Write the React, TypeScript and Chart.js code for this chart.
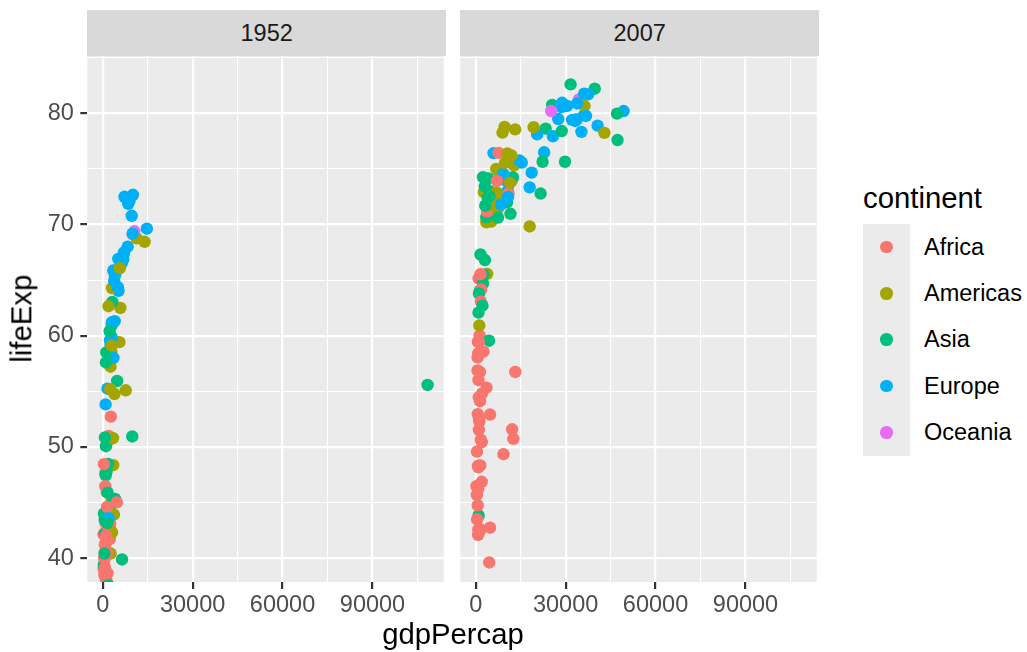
import React, { useEffect, useRef } from "react";
import { Chart, registerables } from "chart.js";

Chart.register(...registerables);

// ---------------- data (gapminder, alphabetical by country) ----------------
const countries = [
  "Afghanistan","Albania","Algeria","Angola","Argentina","Australia","Austria","Bahrain","Bangladesh","Belgium",
  "Benin","Bolivia","Bosnia and Herzegovina","Botswana","Brazil","Bulgaria","Burkina Faso","Burundi","Cambodia","Cameroon",
  "Canada","Central African Republic","Chad","Chile","China","Colombia","Comoros","Congo, Dem. Rep.","Congo, Rep.","Costa Rica",
  "Cote d'Ivoire","Croatia","Cuba","Czech Republic","Denmark","Djibouti","Dominican Republic","Ecuador","Egypt","El Salvador",
  "Equatorial Guinea","Eritrea","Ethiopia","Finland","France","Gabon","Gambia","Germany","Ghana","Greece",
  "Guatemala","Guinea","Guinea-Bissau","Haiti","Honduras","Hong Kong, China","Hungary","Iceland","India","Indonesia",
  "Iran","Iraq","Ireland","Israel","Italy","Jamaica","Japan","Jordan","Kenya","Korea, Dem. Rep.",
  "Korea, Rep.","Kuwait","Lebanon","Lesotho","Liberia","Libya","Madagascar","Malawi","Malaysia","Mali",
  "Mauritania","Mauritius","Mexico","Mongolia","Montenegro","Morocco","Mozambique","Myanmar","Namibia","Nepal",
  "Netherlands","New Zealand","Nicaragua","Niger","Nigeria","Norway","Oman","Pakistan","Panama","Paraguay",
  "Peru","Philippines","Poland","Portugal","Puerto Rico","Reunion","Romania","Rwanda","Sao Tome and Principe","Saudi Arabia",
  "Senegal","Serbia","Sierra Leone","Singapore","Slovak Republic","Slovenia","Somalia","South Africa","Spain","Sri Lanka",
  "Sudan","Swaziland","Sweden","Switzerland","Syria","Taiwan","Tanzania","Thailand","Togo","Trinidad and Tobago",
  "Tunisia","Turkey","Uganda","United Kingdom","United States","Uruguay","Venezuela","Vietnam","West Bank and Gaza","Yemen, Rep.",
  "Zambia","Zimbabwe",
];

const countryContinent = [
  "Asia","Europe","Africa","Africa","Americas","Oceania","Europe","Asia","Asia","Europe",
  "Africa","Americas","Europe","Africa","Americas","Europe","Africa","Africa","Asia","Africa",
  "Americas","Africa","Africa","Americas","Asia","Americas","Africa","Africa","Africa","Americas",
  "Africa","Europe","Americas","Europe","Europe","Africa","Americas","Americas","Africa","Americas",
  "Africa","Africa","Africa","Europe","Europe","Africa","Africa","Europe","Africa","Europe",
  "Americas","Africa","Africa","Americas","Americas","Asia","Europe","Europe","Asia","Asia",
  "Asia","Asia","Europe","Asia","Europe","Americas","Asia","Asia","Africa","Asia",
  "Asia","Asia","Asia","Africa","Africa","Africa","Africa","Africa","Asia","Africa",
  "Africa","Africa","Americas","Asia","Europe","Africa","Africa","Asia","Africa","Asia",
  "Europe","Oceania","Americas","Africa","Africa","Europe","Asia","Asia","Americas","Americas",
  "Americas","Asia","Europe","Europe","Americas","Africa","Europe","Africa","Africa","Asia",
  "Africa","Europe","Africa","Asia","Europe","Europe","Africa","Africa","Europe","Asia",
  "Africa","Africa","Europe","Europe","Asia","Asia","Africa","Asia","Africa","Americas",
  "Africa","Europe","Africa","Europe","Americas","Americas","Americas","Asia","Asia","Asia",
  "Africa","Africa",
];

const gdp1952 = [
  779.4,1601.1,2449.0,3520.6,5911.3,10039.6,6137.1,9867.1,684.2,8343.1,
  1062.8,2677.3,973.5,851.2,2108.9,2444.3,543.3,339.3,368.5,1172.7,
  11367.2,1071.3,1178.7,3940.0,400.4,2144.1,1103.0,780.5,2125.6,2627.0,
  1388.6,3119.2,5586.5,6876.1,9692.4,2669.5,1397.7,3522.1,1418.8,3048.3,
  375.6,328.9,362.1,6424.5,7029.8,4293.5,485.2,7144.1,911.3,3530.7,
  2428.2,510.2,299.9,1840.4,2194.9,3054.4,5263.7,7267.7,546.6,749.7,
  3035.3,4129.8,5210.3,4086.5,4931.4,2898.5,3217.0,1546.9,853.5,1088.3,
  1030.6,108382.4,4834.8,298.8,575.6,2387.5,1443.0,369.2,1831.1,452.3,
  743.1,1968.0,3478.1,786.6,2647.6,1688.2,468.5,331.0,2423.8,545.9,
  8941.6,10556.6,3112.4,761.9,1077.3,10095.4,1828.2,684.6,2480.4,1952.3,
  3758.5,1272.9,4029.3,3068.3,3082.0,2718.9,3144.6,493.3,879.6,6459.6,
  1450.4,3581.5,879.8,2315.1,5074.7,4215.0,1135.8,4725.3,3834.0,1083.5,
  1616.0,1148.4,8527.8,14734.2,1643.5,1206.9,716.7,757.8,859.8,3023.3,
  1468.5,1969.1,734.8,9979.5,13990.5,5716.8,7689.8,605.1,1515.6,781.7,
  1147.4,406.9,
];

const life1952 = [
  28.80,55.23,43.08,30.02,62.49,69.12,66.80,50.94,37.48,68.00,
  38.22,40.41,53.82,47.62,50.92,59.60,31.98,39.03,39.42,38.52,
  68.75,35.46,38.09,54.75,44.00,50.64,40.72,39.14,42.11,57.21,
  40.48,61.21,59.42,66.87,70.78,34.81,45.93,48.36,41.89,45.26,
  34.48,35.93,34.08,66.55,67.41,37.00,30.00,67.50,43.15,65.86,
  42.02,33.61,32.50,37.58,41.91,60.96,64.03,72.49,37.37,37.47,
  44.87,45.32,66.91,65.39,65.94,58.53,63.03,43.16,42.27,50.06,
  47.45,55.57,55.93,42.14,38.48,42.72,36.68,36.26,48.46,33.69,
  40.54,50.99,50.79,42.24,59.16,42.87,31.29,36.32,41.73,36.16,
  72.13,69.39,42.31,37.44,36.32,72.67,37.58,43.44,55.19,62.65,
  43.90,47.75,61.31,59.82,64.28,52.72,61.05,40.00,46.47,39.88,
  37.28,58.00,30.33,60.40,64.36,65.57,32.98,45.01,64.94,57.59,
  38.64,41.41,71.86,69.62,45.88,58.50,41.22,50.85,38.60,59.10,
  44.60,43.59,39.98,69.18,68.44,66.07,55.09,40.41,43.16,32.55,
  42.04,48.45,
];

const gdp2007 = [
  974.6,5937.0,6223.4,4797.2,12779.4,34435.4,36126.5,29796.0,1391.3,33692.6,
  1441.3,3822.1,7446.3,12569.9,9065.8,10680.8,1217.0,430.1,1713.8,2042.1,
  36319.2,706.0,1704.1,13171.6,4959.1,7006.6,986.1,277.6,3632.6,9645.1,
  1544.8,14619.2,8948.1,22833.3,35278.4,2082.5,6025.4,6873.3,5581.2,5728.4,
  12154.1,641.4,690.8,33207.1,30470.0,13206.5,752.7,32170.4,1327.6,27538.4,
  5186.1,942.7,579.2,1201.6,3548.3,39725.0,18008.9,36180.8,2452.2,3540.7,
  11605.7,4471.1,40676.0,25523.3,28569.7,7320.9,31656.1,4519.5,1463.2,1593.1,
  23348.1,47307.0,10461.1,1569.3,414.5,12057.5,1044.8,759.4,12451.7,1042.6,
  1803.2,10957.0,11977.6,3095.8,9253.9,3820.2,823.7,944.0,4811.1,1091.4,
  36797.9,25185.0,2749.3,619.7,2014.0,49357.2,22316.2,2605.9,9809.2,4172.8,
  7408.9,3190.5,15389.9,20509.6,19328.7,7670.1,10808.5,863.1,1598.4,21654.8,
  1712.5,9786.5,862.5,47143.2,18678.3,25768.3,926.1,9269.7,28821.1,3970.1,
  2602.4,4513.5,33859.7,37506.4,4184.5,28718.3,1107.5,7458.4,883.0,18008.5,
  7092.9,8458.3,1056.4,33203.3,42951.7,10611.5,11415.8,2441.6,3025.3,2280.8,
  1271.2,469.7,
];

const life2007 = [
  43.83,76.42,72.30,42.73,75.32,81.24,79.83,75.64,64.06,79.44,
  56.73,65.55,74.85,50.73,72.39,73.01,52.30,49.58,59.72,50.43,
  80.65,44.74,50.65,78.55,72.96,72.89,65.15,46.46,55.32,78.78,
  48.33,75.75,78.27,76.49,78.33,54.79,72.24,74.99,71.34,71.88,
  51.58,58.04,52.95,79.31,80.66,56.74,59.45,79.41,60.02,79.48,
  70.26,56.01,46.39,60.92,70.20,82.21,73.34,81.76,64.70,70.65,
  70.96,59.55,78.89,80.75,80.55,72.57,82.60,72.54,54.11,67.30,
  78.62,77.59,71.99,42.59,45.68,73.95,59.44,48.30,74.24,54.47,
  64.16,72.80,76.20,66.80,74.54,71.16,42.08,62.07,52.91,63.79,
  79.76,80.20,72.90,56.87,46.86,80.20,75.64,65.48,75.54,71.75,
  71.42,71.69,75.56,78.10,78.75,76.44,72.48,46.24,65.53,72.78,
  63.06,74.00,42.57,79.97,74.66,77.93,48.16,49.34,80.94,72.40,
  58.56,39.61,80.88,81.70,74.14,78.40,52.52,70.62,58.42,69.82,
  73.92,71.78,51.54,79.43,78.24,76.38,73.75,74.25,73.42,62.70,
  42.38,43.49,
];

const continentNames = ["Africa", "Americas", "Asia", "Europe", "Oceania"];
const continentColors = ["#F8766D", "#A3A500", "#00BF7D", "#00B0F6", "#E76BF3"];
const panelYears = ["1952", "2007"];

const xTickValues = [0, 15000, 30000, 45000, 60000, 75000, 90000, 105000];
const xMajorStep = 30000;
const yTickValues = [40, 45, 50, 55, 60, 65, 70, 75, 80, 85];
const yMajorStep = 10;
const xLimits = [-5127.7, 113787.6];
const yLimits = [37.85, 85.15];

// ---------------- styling ----------------
const FONT = "'Liberation Sans', Arial, Helvetica, sans-serif";
Chart.defaults.font.family = FONT;

const PANEL_TOP = 56;
const PANEL_BOTTOM = 582;
const CANVAS_H = 652;
const SMALL = 23.5;
const LARGE = 29.3;

const colorOf = (c: string) => continentColors[continentNames.indexOf(c)];

const panelBg = {
  id: "panelBg",
  beforeDraw(chart: any) {
    const { ctx, chartArea } = chart;
    ctx.save();
    ctx.fillStyle = "#EBEBEB";
    ctx.fillRect(chartArea.left, chartArea.top, chartArea.right - chartArea.left, chartArea.bottom - chartArea.top);
    ctx.restore();
  },
};

function Panel(props: {
  gdp: number[];
  life: number[];
  showY: boolean;
  left: number;
  width: number;
  padLeft: number;
  padRight: number;
}) {
  const ref = useRef<HTMLCanvasElement>(null);
  const { gdp, life, showY, left, width, padLeft, padRight } = props;

  useEffect(() => {
    if (!ref.current) return;
    const isMajorX = (v: number) => v % xMajorStep === 0;
    const isMajorY = (v: number) => v % yMajorStep === 0;
    const chart = new Chart(ref.current, {
      type: "scatter",
      data: {
        datasets: [
          {
            data: gdp.map((g, i) => ({ x: g, y: life[i] })),
            backgroundColor: countryContinent.map(colorOf),
            borderWidth: 0,
            pointRadius: 6.2,
            pointHoverRadius: 6.2,
            pointBorderWidth: 0,
            clip: 0,
          } as any,
        ],
      },
      options: {
        animation: false,
        responsive: false,
        events: [],
        layout: { padding: { left: padLeft, right: padRight, top: PANEL_TOP, bottom: 0 } },
        plugins: {
          legend: { display: false },
          tooltip: { enabled: false },
          title: { display: false },
        },
        scales: {
          x: {
            type: "linear",
            min: xLimits[0],
            max: xLimits[1],
            afterBuildTicks: (s: any) => {
              s.ticks = xTickValues.map((v) => ({ value: v }));
            },
            afterFit: (s: any) => {
              s.height = CANVAS_H - PANEL_BOTTOM;
            },
            border: { display: false },
            grid: {
              color: "#FFFFFF",
              lineWidth: (c: any) => (c.tick && isMajorX(c.tick.value) ? 2.2 : 1.1),
              tickColor: (c: any) => (c.tick && isMajorX(c.tick.value) ? "#333333" : "rgba(0,0,0,0)"),
              tickWidth: 2.2,
              tickLength: 7,
              drawTicks: true,
            },
            ticks: {
              autoSkip: false,
              maxRotation: 0,
              minRotation: 0,
              padding: 2,
              color: "#4D4D4D",
              font: { size: SMALL, family: FONT },
              callback: (v: any) => (isMajorX(Number(v)) ? String(v) : ""),
            },
          },
          y: {
            type: "linear",
            min: yLimits[0],
            max: yLimits[1],
            afterBuildTicks: (s: any) => {
              s.ticks = yTickValues.map((v) => ({ value: v }));
            },
            afterFit: (s: any) => {
              s.width = showY ? 87.3 : 0;
            },
            border: { display: false },
            grid: {
              color: "#FFFFFF",
              lineWidth: (c: any) => (c.tick && isMajorY(c.tick.value) ? 2.2 : 1.1),
              tickColor: (c: any) => (c.tick && isMajorY(c.tick.value) ? "#333333" : "rgba(0,0,0,0)"),
              tickWidth: 2.2,
              tickLength: 7,
              drawTicks: showY,
            },
            ticks: {
              display: showY,
              autoSkip: false,
              padding: 6.5,
              color: "#4D4D4D",
              font: { size: SMALL, family: FONT },
              callback: (v: any) => (isMajorY(Number(v)) ? String(v) : ""),
            },
          },
        },
      } as any,
      plugins: [panelBg],
    });
    return () => chart.destroy();
  }, []);

  return (
    <canvas
      ref={ref}
      width={width}
      height={CANVAS_H}
      style={{ position: "absolute", left, top: 0, width, height: CANVAS_H }}
    />
  );
}

const stripStyle = (left: number): React.CSSProperties => ({
  position: "absolute",
  left,
  top: 10,
  width: 358.7,
  height: 46,
  background: "#D9D9D9",
  color: "#1A1A1A",
  fontFamily: FONT,
  fontSize: SMALL,
  lineHeight: "46px",
  textAlign: "center",
});

export default function App() {
  const legendTop = 224;
  const keyH = 46.3;
  return (
    <div
      style={{
        position: "absolute",
        left: 0,
        top: 0,
        width: 1027,
        height: 652,
        background: "#FFFFFF",
        overflow: "hidden",
        fontFamily: FONT,
      }}
    >
      <Panel gdp={gdp1952} life={life1952} showY={true} left={0} width={450} padLeft={0} padRight={4} />
      <Panel gdp={gdp2007} life={life2007} showY={false} left={450} width={373} padLeft={10.3} padRight={4} />

      <div style={stripStyle(87.3)}>{panelYears[0]}</div>
      <div style={stripStyle(460.3)}>{panelYears[1]}</div>

      {/* axis titles */}
      <div
        style={{
          position: "absolute",
          left: 253,
          width: 400,
          top: 619.3,
          textAlign: "center",
          fontSize: LARGE,
          lineHeight: `${LARGE}px`,
          color: "#000000",
        }}
      >
        gdpPercap
      </div>
      <div
        style={{
          position: "absolute",
          left: 21 - 100,
          top: 319 - LARGE / 2,
          width: 200,
          height: LARGE,
          textAlign: "center",
          fontSize: LARGE,
          lineHeight: `${LARGE}px`,
          color: "#000000",
          transform: "rotate(-90deg)",
          transformOrigin: "50% 50%",
        }}
      >
        lifeExp
      </div>

      {/* legend */}
      <div
        style={{
          position: "absolute",
          left: 863,
          top: 183.3,
          fontSize: LARGE,
          lineHeight: `${LARGE}px`,
          color: "#000000",
          whiteSpace: "nowrap",
        }}
      >
        continent
      </div>
      <div
        style={{
          position: "absolute",
          left: 863,
          top: legendTop,
          width: 46.7,
          height: keyH * continentNames.length,
          background: "#EBEBEB",
        }}
      />
      {continentNames.map((name, i) => {
        const yc = legendTop + keyH / 2 + i * keyH;
        return (
          <React.Fragment key={name}>
            <div
              style={{
                position: "absolute",
                left: 886.3 - 6.3,
                top: yc - 6.3,
                width: 12.6,
                height: 12.6,
                borderRadius: "50%",
                background: continentColors[i],
              }}
            />
            <div
              style={{
                position: "absolute",
                left: 924,
                top: yc - 11.5,
                fontSize: SMALL,
                lineHeight: `${SMALL}px`,
                color: "#000000",
                whiteSpace: "nowrap",
              }}
            >
              {name}
            </div>
          </React.Fragment>
        );
      })}
    </div>
  );
}
